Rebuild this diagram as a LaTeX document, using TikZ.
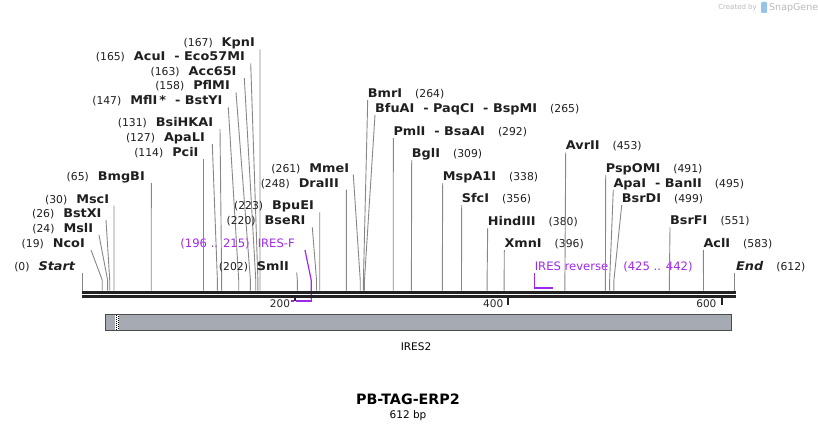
\documentclass[tikz,border=0pt]{standalone}
\usepackage{fontspec}
\setmainfont{DejaVu Sans}
\newfontfamily\enzfont{DejaVu Sans}[FakeStretch=1.07]
\usetikzlibrary{positioning}
\definecolor{primer}{RGB}{160,40,235}
\definecolor{cutgray}{RGB}{135,135,135}
\definecolor{strand}{RGB}{34,34,34}
\definecolor{featfill}{RGB}{166,171,179}
\definecolor{featdraw}{RGB}{75,75,75}
\definecolor{wmgray}{RGB}{185,185,185}
\definecolor{wmblue}{RGB}{150,195,235}
\newcommand\enz[1]{{\enzfont\fontsize{12}{14}\selectfont\bfseries #1}}

\begin{document}
\begin{tikzpicture}[x=1pt, y=-1pt,
        sitelbl/.style={inner sep=0pt, font=\fontsize{10.8}{13}\selectfont, text=black!88},
        primerlbl/.style={inner sep=0pt, font=\fontsize{11.6}{13}\selectfont, text=primer},
        cutline/.style={draw=cutgray, line width=0.9pt},
        primerbar/.style={draw=primer, line width=2pt},
        primerlead/.style={draw=primer, line width=1.2pt},
        strandline/.style={draw=strand, line width=3pt},
        rulertick/.style={draw=strand, line width=2pt},
        rulerlbl/.style={inner sep=0pt, font=\fontsize{10.5}{12}\selectfont, text=black!85},
        feature/.style={draw=featdraw, line width=1pt, fill=featfill}
    ]
        \useasboundingbox (0,0) rectangle (818,430);

        % watermark
        \node[inner sep=0pt, anchor=base east, font=\fontsize{7}{8}\selectfont, text=wmgray] (wm1) at (757,10) {Created by};
        \fill[wmblue, rounded corners=1pt] (761,2) rectangle (767,13);
        \node[inner sep=0pt, anchor=base west, font=\fontsize{9.5}{11}\selectfont, text=wmgray] (wm2) at (769,10.5) {SnapGene};

        % primers (under the strands)
        \node[primerlbl, anchor=base east] (fwdlbl) at (295,247.3) {(196 .. 215)\hspace{8pt}IRES-F};
        \coordinate (fwdA) at ({82+1.066*196},300.7);
        \coordinate (fwdB) at ({82+1.066*215},300.7);
        \draw[primerlead] ([xshift=10pt,yshift=-2.8pt]fwdlbl.base east) -- ({82+1.066*215},280) -- (fwdB);
        \draw[white, line width=3.5pt] (fwdA) -- (fwdB);
        \draw[primerbar] (fwdA) -- ([xshift=0.7pt]fwdB);

        \node[primerlbl, anchor=base west] (revlbl) at (534.6,270) {IRES reverse\hspace{15pt}(425 .. 442)};
        \coordinate (revA) at (534.6,287.7);
        \coordinate (revB) at ({82+1.066*442},287.7);
        \draw[primerlead] ([yshift=-3pt]revlbl.base west) -- (revA);
        \draw[primerbar] ([xshift=-0.6pt]revA) -- (revB);

        % sites labelled on the left
        \foreach \p/\tx/\ty/\dx/\nm in {19/85/247.7/6/NcoI, 24/93.3/232.7/5.7/MslI, 26/101.7/217.7/4.3/BstXI,
                30/109.3/203.3/4.7/MscI, 65/145/180.7/6.3/BmgBI, 114/198.7/156.7/4.8/PciI,
                127/205/141.7/7.3/ApaLI, 131/213.3/126.7/6.7/BsiHKAI, 147/222.7/105/5.6/{MflI\,*\ \ -\ BstYI},
                158/230/90/6/PflMI, 163/236.7/75.7/7.6/Acc65I, 165/245/61/5.7/{AcuI\ \ -\ Eco57MI},
                167/255/47/5/KpnI, 202/289/270/7.7/SmlI, 220/305.7/225/6.6/BseRI,
                223/314/210/5.7/BpuEI, 248/339/187.3/7.4/DraIII, 261/349.3/172.3/4/MmeI} {
            \node[sitelbl, anchor=base east] (l\p) at (\tx,\ty) {(\p)\hspace{9pt}\enz{\nm}};
            \coordinate (c\p) at ({82+1.066*\p},290.5);
            \draw[cutline] ([xshift=\dx pt,yshift=-2.4pt]l\p.base east) -- ({82+1.066*\p},280) -- (c\p);
        }

        % sites labelled on the right
        \foreach \p/\tx/\ty/\nm in {264/367.7/97.7/BmrI, 265/375/112.3/{BfuAI\ \ -\ PaqCI\ \ -\ BspMI},
                292/393.3/135.7/{PmlI\ \ -\ BsaAI}, 309/411.7/157.7/BglI, 338/442.7/180.7/MspA1I,
                356/461.7/202.7/SfcI, 380/487.7/225.7/HindIII, 396/504.3/247.7/XmnI,
                453/565.7/150/AvrII, 491/605.7/172.3/PspOMI, 495/613.3/187.3/{ApaI\ \ -\ BanII},
                499/621.7/202.7/BsrDI, 551/670/225/BsrFI, 583/703.3/247.3/AclI} {
            \node[sitelbl, anchor=base west] (r\p) at (\tx,\ty) {\enz{\nm}\hspace{13pt}(\p)};
            \coordinate (c\p) at ({82+1.066*\p},290.5);
            \draw[cutline] ([yshift=-2.5pt]r\p.base west) -- ({82+1.066*\p},280) -- (c\p);
        }

        % start and end
        \node[sitelbl, anchor=base east] (start) at (75.3,270) {(0)\hspace{9pt}\enz{\itshape Start}};
        \node[sitelbl, anchor=base west] (end) at (736,270) {\enz{\itshape End}\hspace{13pt}(612)};
        \coordinate (c0) at (82,290.5);
        \coordinate (c612) at ({82+1.066*612},290.5);
        \draw[cutline] (82,272.5) -- (c0);
        \draw[cutline] ({82+1.066*612},272.5) -- (c612);

        % double strand
        \coordinate (topL) at (81.5,292.2);
        \coordinate (topR) at (735.5,292.2);
        \coordinate (botL) at (81.5,296.6);
        \coordinate (botR) at (735.5,296.6);
        \draw[strandline] (topL) -- (topR);
        \draw[strandline] (botL) -- (botR);

        % ruler
        \foreach \t in {200,400,600} {
            \coordinate (t\t) at ({82+1.066*\t},298);
            \draw[rulertick] (t\t) -- ++(0,7);
            \node[rulerlbl, anchor=base east] (tl\t) at ([xshift=-5pt,yshift=-9.5pt]t\t) {\t};
        }
        \draw[white, line width=1.5pt] ([yshift=-2.5pt]t200) -- ++(0,2);
        \draw[white, line width=1.5pt] ([yshift=-4.5pt]t200) -- ++(0,2);

        % feature
        \draw[feature] (105,314.3) rectangle (731,330);
        \fill[white] (115,314.8) rectangle (119.4,329.5);
        \draw[black, line width=1pt, dash pattern=on 1pt off 1pt] (116,314.8) -- (116,329.5);
        \draw[black, line width=1pt, dash pattern=on 1pt off 1pt, dash phase=1pt] (118.4,314.8) -- (118.4,329.5);
        \node[inner sep=0pt, anchor=base, font=\fontsize{10.5}{12}\selectfont] (feat) at (416,350) {IRES2};

        % title
        \node[inner sep=0pt, anchor=base, font=\fontsize{14.3}{16}\selectfont\bfseries] (title) at (408,404) {PB-TAG-ERP2};
        \node[inner sep=0pt, anchor=base, font=\fontsize{10.5}{12}\selectfont] (size) at (408,418.3) {612 bp};
\end{tikzpicture}
\end{document}
